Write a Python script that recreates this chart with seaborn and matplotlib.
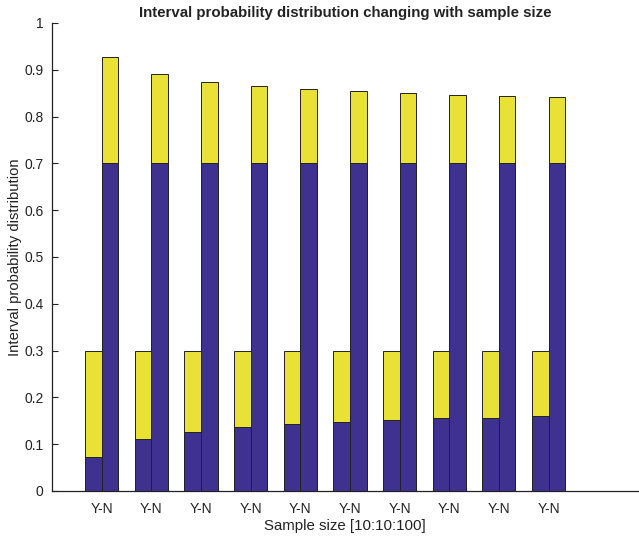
import matplotlib
matplotlib.use("Agg")
import matplotlib.pyplot as plt
import seaborn as sns
import pandas as pd

sample_sizes = [10, 20, 30, 40, 50, 60, 70, 80, 90, 100]
tick_labels = ["Y-N"] * 10
y_lower = [0.073, 0.111, 0.126, 0.137, 0.143, 0.147, 0.152, 0.155, 0.157, 0.160]
y_upper = [0.30, 0.30, 0.30, 0.30, 0.30, 0.30, 0.30, 0.30, 0.30, 0.30]
n_lower = [0.70, 0.70, 0.70, 0.70, 0.70, 0.70, 0.70, 0.70, 0.70, 0.70]
n_upper = [0.928, 0.891, 0.875, 0.865, 0.859, 0.854, 0.850, 0.847, 0.844, 0.842]

blue = "#3E3190"
yellow = "#E9E135"

rows = []
for i, s in enumerate(sample_sizes):
    rows.append({"size": s, "kind": "Y", "lower": y_lower[i], "upper": y_upper[i]})
    rows.append({"size": s, "kind": "N", "lower": n_lower[i], "upper": n_upper[i]})
df = pd.DataFrame(rows)

sns.set_style("white")
plt.rcParams["font.family"] = ["Liberation Sans", "DejaVu Sans"]

fig = plt.figure(figsize=(6.39, 5.38), dpi=100)
ax = fig.add_axes([52 / 639, 1 - 491 / 538, 586 / 639, 468 / 538])

sns.barplot(data=df, x="size", y="upper", hue="kind", hue_order=["Y", "N"],
            palette={"Y": yellow, "N": yellow}, width=0.666, errorbar=None,
            edgecolor="#222222", linewidth=0.7, legend=False, ax=ax, saturation=1)
sns.barplot(data=df, x="size", y="lower", hue="kind", hue_order=["Y", "N"],
            palette={"Y": blue, "N": blue}, width=0.666, errorbar=None,
            edgecolor="#222222", linewidth=0.7, legend=False, ax=ax, saturation=1)

ax.set_xlim(-1, 10.8)
ax.set_ylim(0, 1)
ax.set_xticks(range(len(sample_sizes)))
ax.set_xticklabels(tick_labels)
ax.set_yticks([0, 0.1, 0.2, 0.3, 0.4, 0.5, 0.6, 0.7, 0.8, 0.9, 1])
ax.set_yticklabels(["0", "0.1", "0.2", "0.3", "0.4", "0.5", "0.6", "0.7", "0.8", "0.9", "1"])
ax.tick_params(axis="y", left=True, direction="in", length=4.5, width=0.8,
               labelsize=10, colors="#222222", pad=6)
ax.tick_params(axis="x", bottom=False, length=0, labelsize=10, colors="#222222", pad=8)
for s in ["top", "right"]:
    ax.spines[s].set_visible(False)
for s in ["left", "bottom"]:
    ax.spines[s].set_color("#222222")
    ax.spines[s].set_linewidth(0.9)

ax.set_xlabel("Sample size [10:10:100]", fontsize=10.8, color="#222222", labelpad=2)
ax.set_ylabel("Interval probability distribution", fontsize=10.7, color="#222222", labelpad=2)
ax.set_title("Interval probability distribution changing with sample size",
             fontsize=10.8, fontweight="bold", color="#222222", pad=4)

fig.savefig("out.png", dpi=100)
